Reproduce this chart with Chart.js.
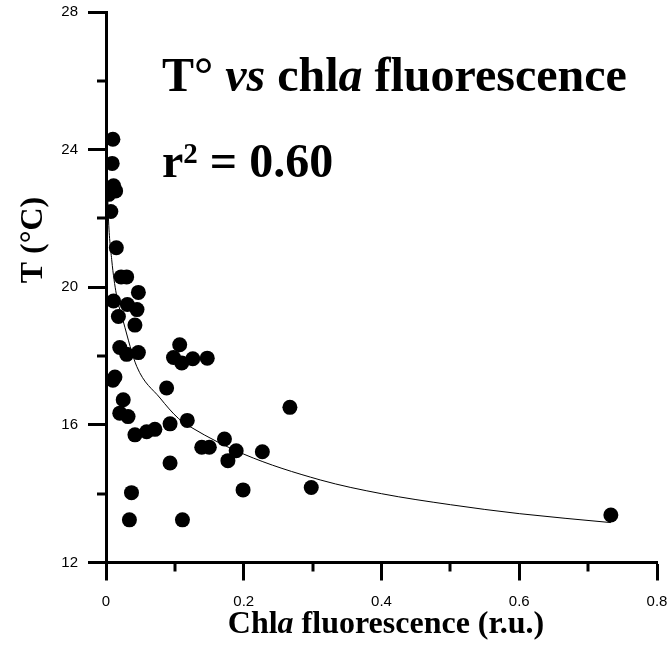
<!DOCTYPE html>
<html>
<head>
<meta charset="utf-8">
<script src="https://cdn.jsdelivr.net/npm/chart.js@4.4.0/dist/chart.umd.min.js"></script>
<style>
  html, body { margin: 0; padding: 0; background: #fff; }
  #wrap { width: 669px; height: 650px; }
</style>
</head>
<body>
<div id="wrap"><canvas id="chart" width="669" height="650"></canvas></div>
<script>
// measured points: chl a fluorescence (r.u.) vs temperature (°C)
const chlA = [0.010, 0.009, 0.011, 0.004, 0.014, 0.007, 0.015, 0.022, 0.030, 0.047,
              0.011, 0.031, 0.045, 0.018, 0.042, 0.020, 0.030, 0.047, 0.107, 0.098,
              0.110, 0.126, 0.147, 0.013, 0.010, 0.088, 0.025, 0.020, 0.032, 0.042,
              0.059, 0.071, 0.093, 0.118, 0.267, 0.139, 0.150, 0.172, 0.189, 0.177,
              0.227, 0.093, 0.199, 0.298, 0.037, 0.034, 0.111, 0.733];
const tempC = [24.3, 23.6, 22.95, 22.7, 22.8, 22.2, 21.15, 20.3, 20.3, 19.85,
               19.6, 19.5, 19.35, 19.15, 18.9, 18.25, 18.05, 18.1, 18.33, 17.96,
               17.8, 17.92, 17.94, 17.39, 17.3, 17.07, 16.73, 16.34, 16.24, 15.71,
               15.8, 15.87, 16.03, 16.13, 16.51, 15.35, 15.35, 15.59, 15.25, 14.96,
               15.22, 14.89, 14.11, 14.18, 14.03, 13.24, 13.24, 13.38];

// fitted curve
const fitX = [0.002, 0.0034, 0.0083, 0.015, 0.0252, 0.0446, 0.0785, 0.105, 0.1236, 0.2, 0.311, 0.4, 0.5, 0.6, 0.733];
const fitY = [23.0, 22.06, 20.8, 19.8, 19.0, 17.7, 16.78, 16.19, 15.93, 15.15, 14.4, 14.0, 13.68, 13.42, 13.16];

const xTicks = [0, 0.2, 0.4, 0.6, 0.8];
const xMinor = [0.1, 0.3, 0.5, 0.7];
const yTicks = [12, 16, 20, 24, 28];
const yMinor = [14, 18, 22, 26];

const serif = "'Liberation Serif', 'Times New Roman', serif";
const sans = "'Liberation Sans', Arial, sans-serif";

function drawRuns(ctx, x, y, runs) {
    runs.forEach(r => {
        ctx.font = r.font;
        ctx.fillText(r.text, x, y + (r.dy || 0));
        x += ctx.measureText(r.text).width;
    });
}

function runsWidth(ctx, runs) {
    let w = 0;
    runs.forEach(r => { ctx.font = r.font; w += ctx.measureText(r.text).width; });
    return w;
}

// no extra room for overflowing tick labels, the layout padding decides
function noLabelPadding(s) {
    s.paddingLeft = 0; s.paddingRight = 0;
    s.paddingTop = 0; s.paddingBottom = 0;
}

const textPlugin = {
    id: 'texts',
    afterDraw(chart) {
        const ctx = chart.ctx;
        const xs = chart.scales.x, ys = chart.scales.y;
        const area = chart.chartArea;
        ctx.save();
        ctx.strokeStyle = '#000';
        ctx.lineWidth = 3;
        // minor ticks
        xMinor.forEach(v => {
            const px = Math.round(xs.getPixelForValue(v));
            ctx.beginPath();
            ctx.moveTo(px, area.bottom);
            ctx.lineTo(px, area.bottom + 9);
            ctx.stroke();
        });
        yMinor.forEach(v => {
            const py = Math.round(ys.getPixelForValue(v));
            ctx.beginPath();
            ctx.moveTo(area.left - 9, py);
            ctx.lineTo(area.left, py);
            ctx.stroke();
        });

        ctx.fillStyle = '#000';
        ctx.textBaseline = 'alphabetic';
        ctx.textAlign = 'left';
        const big = 'bold 48px ' + serif;
        const bigI = 'italic bold 48px ' + serif;
        drawRuns(ctx, 162, 91, [
            { text: 'T° ', font: big },
            { text: 'vs', font: bigI },
            { text: ' chl', font: big },
            { text: 'a', font: bigI },
            { text: ' fluorescence', font: big }
        ]);
        drawRuns(ctx, 162, 177, [
            { text: 'r', font: big },
            { text: '2', font: 'bold 29px ' + serif, dy: -14 },
            { text: ' = 0.60', font: big }
        ]);

        // x axis title
        const xt = 'bold 32px ' + serif, xti = 'italic bold 32px ' + serif;
        const xRuns = [
            { text: 'Chl', font: xt },
            { text: 'a', font: xti },
            { text: ' fluorescence (r.u.)', font: xt }
        ];
        const w = runsWidth(ctx, xRuns);
        drawRuns(ctx, 386 - w / 2, 633, xRuns);

        // y axis title
        ctx.translate(42, 240);
        ctx.rotate(-Math.PI / 2);
        ctx.textAlign = 'center';
        ctx.font = xt;
        ctx.fillText('T (°C)', 0, 0);
        ctx.restore();
    }
};

new Chart(document.getElementById('chart'), {
    type: 'scatter',
    data: {
        datasets: [{
            data: chlA.map((x, i) => ({ x: x, y: tempC[i] })),
            backgroundColor: '#000',
            borderWidth: 0,
            pointRadius: 7.5,
            pointHoverRadius: 7.5
        }, {
            type: 'line',
            data: fitX.map((x, i) => ({ x: x, y: fitY[i] })),
            borderColor: '#000',
            borderWidth: 1,
            pointRadius: 0,
            fill: false,
            cubicInterpolationMode: 'monotone'
        }]
    },
    options: {
        responsive: false,
        devicePixelRatio: 1,
        animation: false,
        layout: { padding: { top: 12, right: 12, left: 0, bottom: 0 } },
        plugins: { legend: { display: false }, tooltip: { enabled: false } },
        scales: {
            x: {
                type: 'linear',
                min: 0, max: 0.8,
                afterFit: s => { s.height = 87.5; noLabelPadding(s); },
                afterBuildTicks: s => { s.ticks = xTicks.map(v => ({ value: v })); },
                border: { color: '#000', width: 3 },
                grid: { drawOnChartArea: false, tickLength: 18, tickWidth: 3, tickColor: '#000' },
                ticks: {
                    color: '#000', padding: 12, maxRotation: 0,
                    font: { family: sans, size: 15 },
                    callback: v => String(Math.round(v * 10) / 10)
                }
            },
            y: {
                type: 'linear',
                min: 12, max: 28,
                afterFit: s => { s.width = 106; noLabelPadding(s); },
                afterBuildTicks: s => { s.ticks = yTicks.map(v => ({ value: v })); },
                border: { color: '#000', width: 3 },
                grid: { drawOnChartArea: false, tickLength: 18, tickWidth: 3, tickColor: '#000' },
                ticks: {
                    color: '#000', padding: 10,
                    font: { family: sans, size: 15 },
                    callback: v => String(v)
                }
            }
        }
    },
    plugins: [textPlugin]
});
</script>
</body>
</html>
